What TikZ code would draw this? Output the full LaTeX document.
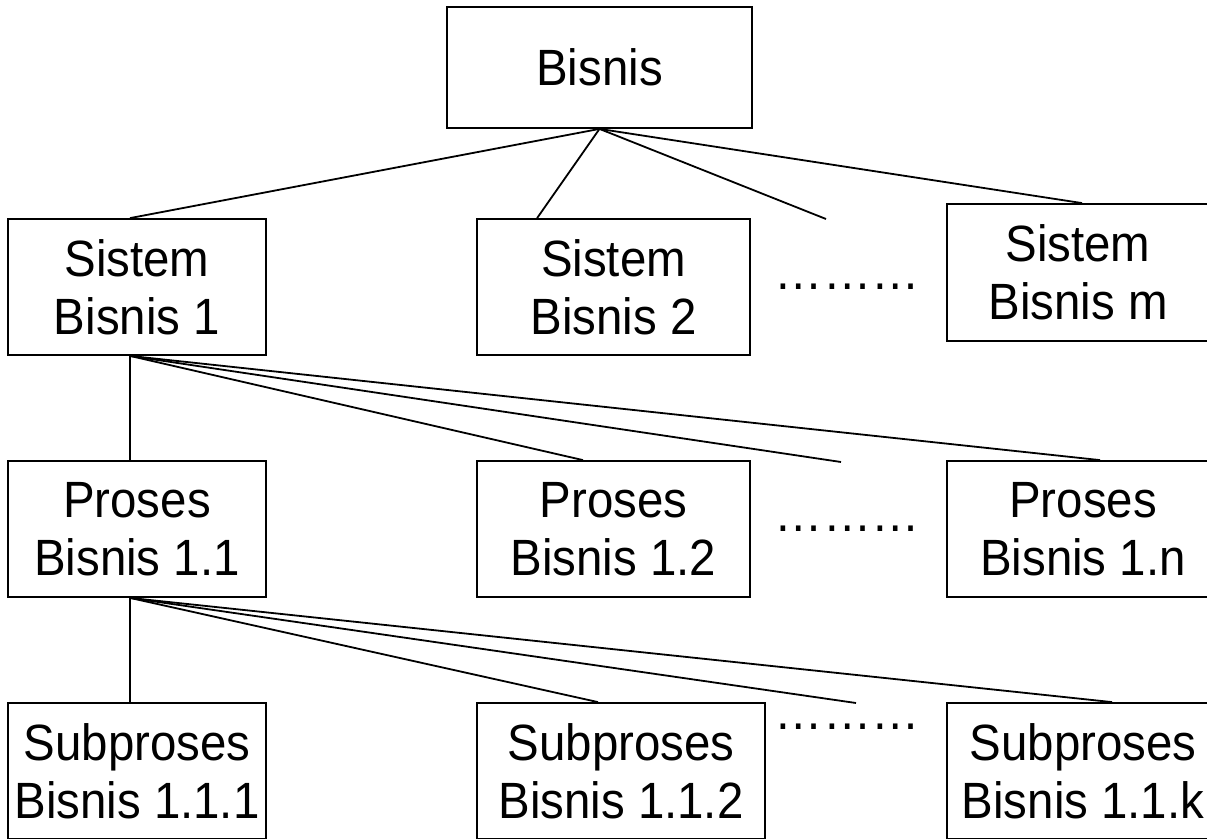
\documentclass[tikz,border=0pt]{standalone}
\usepackage{fontspec}
\setmainfont{Liberation Sans}[FakeStretch=0.93]
\usetikzlibrary{calc}

\tikzset{
  unitbox/.style={draw, line width=1.8pt, rectangle, inner sep=0pt,
    align=center, font=\fontsize{51}{58}\selectfont},
  link/.style={line width=1.8pt},
  ellip/.style={inner sep=0pt, anchor=base, font=\fontsize{52}{58}\selectfont}
}

\begin{document}
\begin{tikzpicture}[x=1pt, y=-1pt]
\useasboundingbox (0,0) rectangle (1207,838);
\clip (0,0) rectangle (1207,838);

% level 0
\node[unitbox, minimum width=305pt, minimum height=121pt] (top) at (599.5,67.5) {Bisnis};

% level 1: systems
\node[unitbox, minimum width=258pt, minimum height=136pt] (s1) at (137,287) {Sistem\\Bisnis 1};
\node[unitbox, minimum width=273pt, minimum height=136pt] (s2) at (613.5,287) {Sistem\\Bisnis 2};
\node[unitbox, minimum width=262pt, minimum height=137pt] (sm) at (1078,272.5) {Sistem\\Bisnis m};

% level 2: processes
\node[unitbox, minimum width=258pt, minimum height=136pt] (p1) at (137,529) {Proses\\Bisnis 1.1};
\node[unitbox, minimum width=273pt, minimum height=136pt] (p2) at (613.5,529) {Proses\\Bisnis 1.2};
\node[unitbox, minimum width=272pt, minimum height=136pt] (pn) at (1083,529) {Proses\\Bisnis 1.n};

% level 3: subprocesses
\node[unitbox, minimum width=258pt, minimum height=136pt] (q1) at (137,771) {Subproses\\Bisnis 1.1.1};
\node[unitbox, minimum width=288pt, minimum height=136pt] (q2) at (621,771) {Subproses\\Bisnis 1.1.2};
\node[unitbox, minimum width=272pt, minimum height=136pt] (qk) at (1083,771) {Subproses\\Bisnis 1.1.k};

% ellipses standing for the omitted siblings
\node[ellip] (e1) at (847.5,289) {………};
\node[ellip] (e2) at (847.5,531) {………};
\node[ellip] (e3) at (847.5,729) {………};

% free ends of the branches towards the omitted siblings
\coordinate (d1) at (826,219);
\coordinate (d2) at (841,462);
\coordinate (d3) at (856,703);

% branches from Bisnis
\draw[link] (top.south) -- ($(s1.north)+(-7,0)$);
\draw[link] (top.south) -- ($(s2.north west)+(61,0)$);
\draw[link] (top.south) -- (d1);
\draw[link] (top.south) -- ($(sm.north)+(4,0)$);

% branches from Sistem Bisnis 1
\draw[link] ($(s1.south)+(-7,0)$) -- ($(p1.north)+(-7,0)$);
\draw[link] ($(s1.south)+(-7,0)$) -- ($(p2.north)+(-30.5,0)$);
\draw[link] ($(s1.south)+(-7,0)$) -- (d2);
\draw[link] ($(s1.south)+(-7,0)$) -- ($(pn.north)+(17,0)$);

% branches from Proses Bisnis 1.1
\draw[link] ($(p1.south)+(-7,0)$) -- ($(q1.north)+(-7,0)$);
\draw[link] ($(p1.south)+(-7,0)$) -- ($(q2.north)+(-23,0)$);
\draw[link] ($(p1.south)+(-7,0)$) -- (d3);
\draw[link] ($(p1.south)+(-7,0)$) -- ($(qk.north)+(29,0)$);
\end{tikzpicture}
\end{document}
